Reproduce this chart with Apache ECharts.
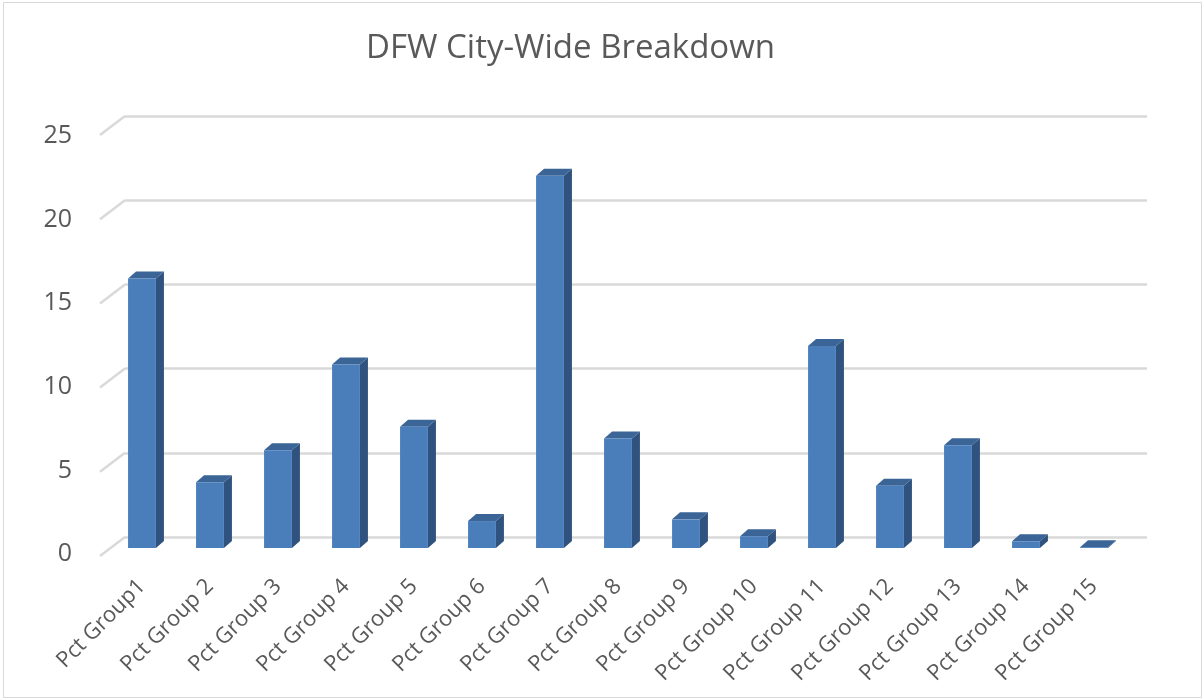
<!DOCTYPE html>
<html>
<head>
<meta charset="utf-8">
<script src="https://cdn.jsdelivr.net/npm/echarts@6/dist/echarts.min.js"></script>
<style>
  html, body { margin: 0; padding: 0; background: #fff; }
  #main { width: 1204px; height: 700px; }
</style>
</head>
<body>
<div id="main"></div>
<script>
// data
const categories = ['Pct Group1', 'Pct Group 2', 'Pct Group 3', 'Pct Group 4', 'Pct Group 5',
  'Pct Group 6', 'Pct Group 7', 'Pct Group 8', 'Pct Group 9', 'Pct Group 10',
  'Pct Group 11', 'Pct Group 12', 'Pct Group 13', 'Pct Group 14', 'Pct Group 15'];
const values = [16.0, 3.9, 5.8, 10.9, 7.2, 1.6, 22.1, 6.5, 1.7, 0.7, 12.0, 3.7, 6.1, 0.4, 0.05];
const yTicks = [0, 5, 10, 15, 20, 25];

const textColor = '#595959';
const wallColor = '#d9d9d9';
const faceColor = '#4a7ebb';
const sideColor = '#30527e';
const topColor = '#3b6497';

let chart = echarts.init(document.getElementById('main'));

// 墙上的斜线 (back wall -> front)
function renderDiag(params, api) {
  let p = api.coord([0, api.value(1)]);
  let x0 = params.coordSys.x;
  return {
    type: 'line',
    shape: { x1: x0, y1: p[1], x2: x0 - 25, y2: p[1] + 19 },
    style: { stroke: wallColor, lineWidth: 2.5 }
  };
}

// 3D 柱子
function renderBar(params, api) {
  let idx = api.value(0);
  let base = api.coord([idx, 0]);
  let top = api.coord([idx, api.value(1)]);
  let w = api.size([1, 0])[0] * 0.41;
  let x = base[0] - w / 2;
  let dx = 8, dy = -7;
  return {
    type: 'group',
    children: [
      {
        type: 'polygon',
        shape: { points: [[x + w, top[1]], [x + w + dx, top[1] + dy], [x + w + dx, base[1] + dy], [x + w, base[1]]] },
        style: { fill: sideColor }
      },
      {
        type: 'polygon',
        shape: { points: [[x, top[1]], [x + dx, top[1] + dy], [x + w + dx, top[1] + dy], [x + w, top[1]]] },
        style: { fill: topColor }
      },
      {
        type: 'rect',
        shape: { x: x, y: top[1], width: w, height: base[1] - top[1] },
        style: { fill: faceColor }
      }
    ]
  };
}

let option = {
  backgroundColor: '#fff',
  animation: false,
  title: {
    text: 'DFW City-Wide Breakdown',
    left: 361,
    top: 27,
    textStyle: { color: textColor, fontFamily: 'Open Sans', fontSize: 33, fontWeight: 'normal' }
  },
  graphic: [{
    type: 'rect',
    shape: { x: 3.5, y: 2.5, width: 1198, height: 695 },
    style: { fill: null, stroke: wallColor, lineWidth: 1 },
    silent: true
  }],
  grid: [
    { left: 125, top: 116, width: 1022, height: 421 },   // back wall
    { left: 100, top: 136, width: 1022, height: 418 },   // y labels (front)
    { left: 108, top: 127, width: 1020, height: 421 }    // bars
  ],
  xAxis: [
    { type: 'category', gridIndex: 0, data: categories, show: false },
    { type: 'category', gridIndex: 1, data: categories, show: false },
    {
      type: 'category', gridIndex: 2, data: categories,
      axisLine: { show: false }, axisTick: { show: false },
      axisLabel: { rotate: 45, margin: 35, interval: 0, color: textColor, fontFamily: 'Open Sans', fontSize: 22 }
    }
  ],
  yAxis: [
    {
      type: 'value', gridIndex: 0, min: 0, max: 25, interval: 5,
      axisLabel: { show: false }, axisLine: { show: false }, axisTick: { show: false },
      splitLine: { lineStyle: { color: wallColor, width: 2.5 } }
    },
    {
      type: 'value', gridIndex: 1, min: 0, max: 25, interval: 5,
      axisLine: { show: false }, axisTick: { show: false }, splitLine: { show: false },
      axisLabel: { margin: 28, color: textColor, fontFamily: 'Open Sans', fontSize: 25 }
    },
    { type: 'value', gridIndex: 2, min: 0, max: 25, interval: 5, show: false }
  ],
  series: [
    {
      type: 'custom', xAxisIndex: 0, yAxisIndex: 0,
      renderItem: renderDiag,
      data: yTicks.map(v => [0, v]),
      silent: true
    },
    {
      type: 'custom', xAxisIndex: 2, yAxisIndex: 2,
      renderItem: renderBar,
      data: values.map((v, i) => [i, v]),
      z: 5
    }
  ]
};
chart.setOption(option);
</script>
</body>
</html>
